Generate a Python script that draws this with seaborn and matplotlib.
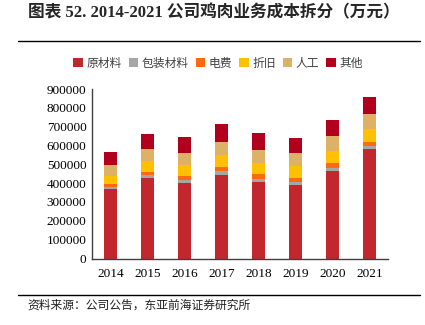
import matplotlib
matplotlib.use("Agg")
import matplotlib.pyplot as plt
import seaborn as sns
import numpy as np
import pandas as pd
from matplotlib.patches import Patch
from matplotlib.lines import Line2D

years = ["2014", "2015", "2016", "2017", "2018", "2019", "2020", "2021"]
series_names = ["原材料", "包装材料", "电费", "折旧", "人工", "其他"]
raw_material = [367000, 430000, 403000, 445000, 407000, 392000, 464000, 579000]
packaging = [13000, 12000, 15000, 20000, 17000, 15000, 19000, 19000]
electricity = [18000, 18000, 21000, 22000, 24000, 21000, 25000, 23000]
depreciation = [42000, 57000, 57000, 60000, 59000, 61000, 64000, 64000]
labor = [54000, 62000, 66000, 72000, 71000, 71000, 80000, 80000]
other = [71000, 83000, 85000, 93000, 87000, 79000, 81000, 90000]
yticks = [0, 100000, 200000, 300000, 400000, 500000, 600000, 700000, 800000, 900000]

colors = ["#C1272D", "#A6A6A6", "#FF6A10", "#FFC000", "#DDB166", "#B0001E"]

sns.set_style("white")
plt.rcParams['font.family'] = ['Liberation Serif', 'Noto Sans CJK SC', 'DejaVu Sans']

W, H = 425, 325
fig = plt.figure(figsize=(W / 100, H / 100), dpi=100)
ax = fig.add_axes([92 / W, (H - 258.5) / H, 296 / W, (258.5 - 89) / H])

series = [raw_material, packaging, electricity, depreciation, labor, other]
cum = np.cumsum(np.array(series), axis=0)
# draw from top layer down so lower layers overlap
for i in range(len(series) - 1, -1, -1):
    df = pd.DataFrame({"year": years, "value": cum[i]})
    sns.barplot(data=df, x="year", y="value", color=colors[i], width=0.37,
                saturation=1, ax=ax, linewidth=0)

ax.set_xlim(-0.5, 7.5)
ax.set_ylim(0, 900000)
ax.set_yticks(yticks)
ax.set_yticklabels([str(v) for v in yticks])
ax.set_xlabel("")
ax.set_ylabel("")
for s in ["top", "right"]:
    ax.spines[s].set_visible(False)
for s in ["left", "bottom"]:
    ax.spines[s].set_color("#404040")
    ax.spines[s].set_linewidth(1.0)
ax.tick_params(axis="y", direction="in", length=4, width=0.8, color="#404040",
               labelsize=9.5, labelcolor="#000000", pad=4)
ax.tick_params(axis="x", length=0, labelsize=9.5, labelcolor="#000000", pad=7)

# title
fig.text(28 / W, 1 - 13 / H, "图表 52. 2014-2021 公司鸡肉业务成本拆分（万元）",
         fontsize=12, fontweight="bold", ha="left", va="center",
         family=['Liberation Serif', 'Noto Sans CJK SC'])
fig.add_artist(Line2D([18 / W, 420 / W], [1 - 41 / H, 1 - 41 / H], color="black", lw=1.0))
fig.add_artist(Line2D([18 / W, 420 / W], [1 - 295 / H, 1 - 295 / H], color="black", lw=1.0))
fig.text(27 / W, 1 - 305 / H, "资料来源：公司公告，东亚前海证券研究所", fontsize=8.5,
         ha="left", va="center", color="#202020", family=['Noto Sans CJK SC'])

handles = [Patch(facecolor=c, edgecolor="none") for c in colors]
fig.legend(handles, series_names, loc="center", bbox_to_anchor=(218 / W, 1 - 63 / H),
           ncol=6, frameon=False, handlelength=0.8, handleheight=0.8,
           handletextpad=0.3, columnspacing=0.6, labelcolor="#404040",
           prop={'family': ['Noto Sans CJK SC'], 'size': 8.5})

fig.savefig("out.png", dpi=100)
